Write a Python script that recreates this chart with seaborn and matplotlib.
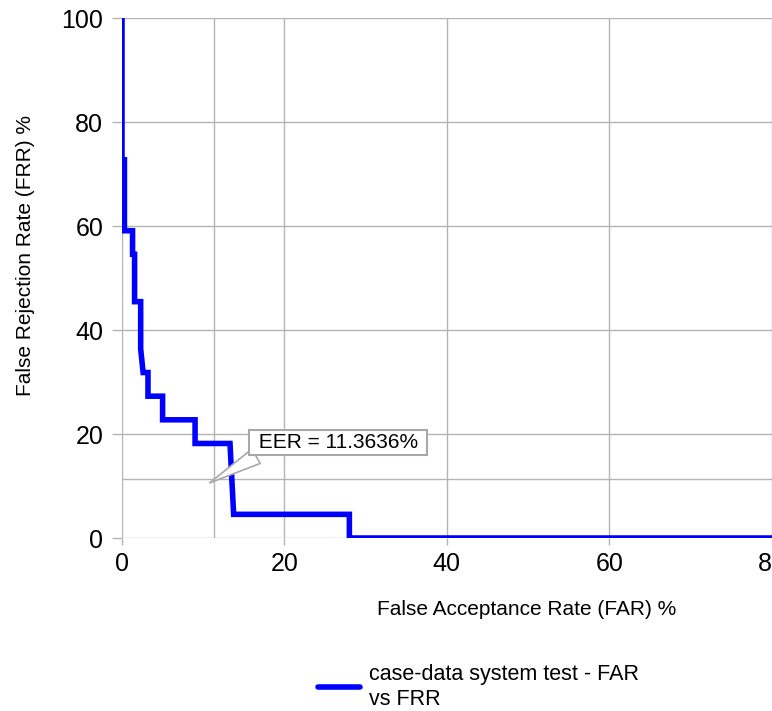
import matplotlib
matplotlib.use("Agg")
import matplotlib.pyplot as plt
import seaborn as sns
import pandas as pd

# ---- data ----
far = [0.0, 0.0, 0.3, 0.3, 1.3, 1.3, 1.55, 1.55, 2.3, 2.3, 2.6, 3.2, 3.2,
       5.0, 5.0, 9.0, 9.0, 13.3, 13.75, 28.0, 28.0, 100.0]
frr = [100.0, 72.73, 72.73, 59.09, 59.09, 54.55, 54.55, 45.45, 45.45, 36.36,
       31.82, 31.82, 27.27, 27.27, 22.73, 22.73, 18.18, 18.18, 4.55, 4.55,
       0.0, 0.0]
eer = 11.3636
series_label = "case-data system test - FAR\nvs FRR"
x_ticks = [0, 20, 40, 60, 80, 100]
y_ticks = [0, 20, 40, 60, 80, 100]

df = pd.DataFrame({"FAR": far, "FRR": frr, "order": range(len(far))})

sns.set_style("white")
plt.rcParams["font.family"] = ["Liberation Sans", "DejaVu Sans"]
plt.rcParams["text.color"] = "black"
plt.rcParams["axes.labelcolor"] = "black"

W, H = 772, 711
fig = plt.figure(figsize=(W / 100, H / 100), dpi=100)
ax = fig.add_axes([122 / W, 1 - 538 / H, 812 / W, 520 / H])

grid_c = "#b4b4b4"
ax.set_xlim(0, 100)
ax.set_ylim(0, 100)
ax.set_xticks(x_ticks)
ax.set_yticks(y_ticks)
ax.grid(True, color=grid_c, linewidth=1.0)
ax.set_axisbelow(True)
ax.axhline(eer, color=grid_c, linewidth=1.0, zorder=0.5)
ax.axvline(eer, color=grid_c, linewidth=1.0, zorder=0.5)
for s in ax.spines.values():
    s.set_visible(False)

sns.lineplot(data=df, x="FAR", y="FRR", sort=False, estimator=None,
             color="#0000ff", linewidth=4.0, ax=ax, label=series_label,
             solid_joinstyle="miter", zorder=3)
if ax.get_legend() is not None:
    ax.get_legend().remove()

ax.tick_params(axis="y", which="major", length=7, width=1, color=grid_c,
               pad=6.5, labelsize=18, labelcolor="black", direction="out", left=True)
ax.tick_params(axis="x", which="major", length=5, width=1, color=grid_c,
               pad=5, labelsize=18, labelcolor="black", direction="out", bottom=True)

ax.set_xlabel("False Acceptance Rate (FAR) %", fontsize=15, color="black")
ax.set_ylabel("False Rejection Rate (FRR) %", fontsize=15, color="black")
ax.xaxis.set_label_coords(0.4988, (538 - 600) / 520)
ax.yaxis.set_label_coords((35 - 122) / 812, (538 - 255) / 520)

ax.annotate(" EER = 11.3636% ", xy=(10.8, 10.6), xytext=(26.6, 18.3),
            textcoords="data", fontsize=15, ha="center", va="center",
            color="black", zorder=5,
            bbox=dict(boxstyle="square,pad=0.15", fc="white", ec="#a8a8a8", lw=1.5),
            arrowprops=dict(arrowstyle="wedge,tail_width=0.8,shrink_factor=0.5",
                            fc="white", ec="#a8a8a8", lw=1.2,
                            relpos=(0.06, 0.0), shrinkA=0, shrinkB=0))

handles, labels = ax.get_legend_handles_labels()
leg = fig.legend(handles, labels, loc="center left",
                 bbox_to_anchor=(318 / W, 1 - 687 / H), frameon=False,
                 fontsize=15.5, handlelength=1.95, handletextpad=0.4,
                 borderpad=0, borderaxespad=0, labelcolor="black")

fig.savefig("out.png", dpi=100)
